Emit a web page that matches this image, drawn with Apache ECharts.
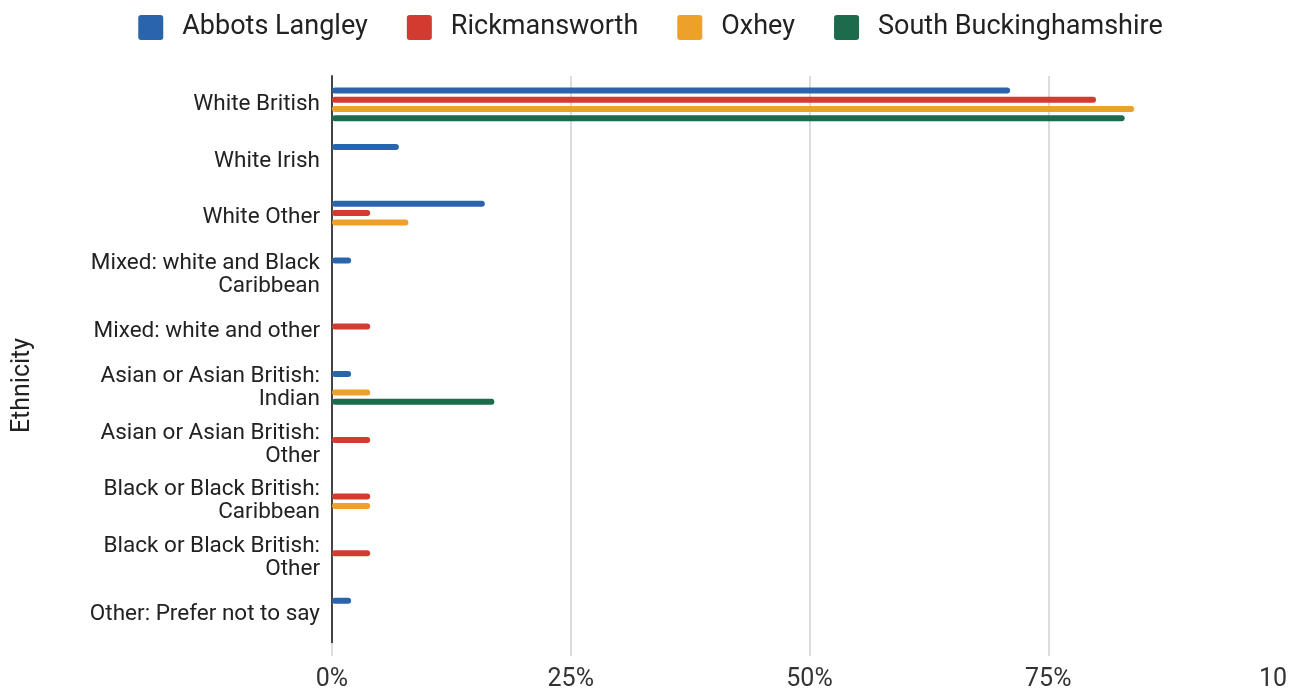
<!DOCTYPE html>
<html>
<head>
<meta charset="utf-8">
<script src="https://cdn.jsdelivr.net/npm/echarts@6/dist/echarts.min.js"></script>
<style>
html,body{margin:0;padding:0;background:#fff;}
#chart{width:1301px;height:692px;}
</style>
</head>
<body>
<div id="chart"></div>
<script>
const categories = [
  'White British',
  'White Irish',
  'White Other',
  'Mixed: white and Black\nCaribbean',
  'Mixed: white and other',
  'Asian or Asian British:\nIndian',
  'Asian or Asian British:\nOther',
  'Black or Black British:\nCaribbean',
  'Black or Black British:\nOther',
  'Other: Prefer not to say'
];
const seriesNames = ['Abbots Langley', 'Rickmansworth', 'Oxhey', 'South Buckinghamshire'];
const abbotsLangley = [71, 7, 16, 2, 0, 2, 0, 0, 0, 2];
const rickmansworth = [80, 0, 4, 0, 4, 0, 4, 4, 4, 0];
const oxhey = [84, 0, 8, 0, 0, 4, 0, 4, 0, 0];
const southBucks = [83, 0, 0, 0, 0, 17, 0, 0, 0, 0];
const xTickLabels = ['0%', '25%', '50%', '75%', '10'];
const colors = ['#2a64ad', '#d13b30', '#eda02a', '#1c6b4d'];

const seriesData = [abbotsLangley, rickmansworth, oxhey, southBucks];
const chart = echarts.init(document.getElementById('chart'));
const font = 'Roboto, "Noto Sans", sans-serif';

chart.setOption({
  animation: false,
  color: colors,
  textStyle: { fontFamily: font },
  legend: {
    top: 9,
    left: 'center',
    icon: 'path://M3,0 H23 Q26,0 26,3 V23 Q26,26 23,26 H3 Q0,26 0,23 V3 Q0,0 3,0 Z',
    itemWidth: 25,
    itemHeight: 26,
    itemGap: 39,
    textStyle: { fontSize: 27, color: '#222', fontFamily: font, padding: [0, 0, 0, 14] },
    data: seriesNames
  },
  grid: { left: 332, right: 14, top: 76, bottom: 47, containLabel: false },
  xAxis: {
    type: 'value',
    min: 0,
    max: 100,
    interval: 25,
    axisLine: { show: false },
    axisTick: { show: true, length: 13, customValues: [0, 25, 50, 75], lineStyle: { color: '#dcdcdc', width: 2 } },
    splitLine: { show: true, lineStyle: { color: ['#dcdcdc', '#dcdcdc', '#dcdcdc', '#dcdcdc', 'rgba(0,0,0,0)'], width: 2 } },
    axisLabel: {
      fontSize: 25,
      color: '#333',
      margin: 24,
      fontFamily: font,
      alignMaxLabel: 'right',
      formatter: v => xTickLabels[Math.round(v / 25)]
    }
  },
  yAxis: {
    type: 'category',
    inverse: true,
    data: categories,
    name: 'Ethnicity',
    nameLocation: 'middle',
    nameRotate: 90,
    nameGap: 297,
    nameTextStyle: { fontSize: 25, color: '#222', fontFamily: font, padding: [0, 52, 0, 0] },
    axisLine: { show: true, lineStyle: { color: '#444', width: 2 } },
    axisTick: { show: false },
    axisLabel: { fontSize: 22.5, lineHeight: 23, color: '#222', margin: 12, fontFamily: font, align: 'right' }
  },
  series: seriesNames.map((name, i) => ({
    name: name,
    type: 'bar',
    data: seriesData[i],
    barWidth: 6,
    barGap: '55%',
    itemStyle: { color: colors[i], borderRadius: 3 }
  }))
});
</script>
</body>
</html>
